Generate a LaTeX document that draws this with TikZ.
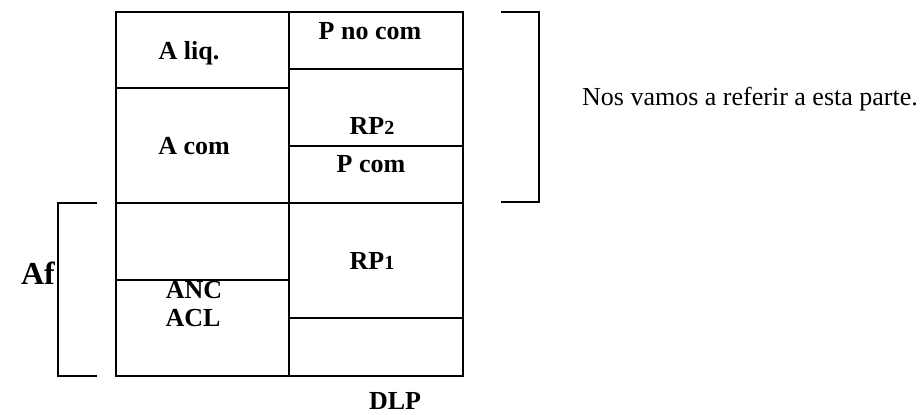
\documentclass[tikz,border=0pt]{standalone}
\usepackage{fontspec}
\setmainfont{Liberation Serif}
\usepackage{tikz}

\newcommand{\smalldig}[1]{{\fontsize{10}{12}\selectfont #1}}

\begin{document}
\begin{tikzpicture}[x=0.5pt,y=-0.5pt,line width=1pt,
  lbl/.style={font=\fontsize{13}{15}\selectfont\bfseries,inner sep=0pt,anchor=base}]
  \useasboundingbox (0,0) rectangle (924,415);
  % left column
  \draw (116,12) rectangle (289,88);
  \draw (116,88) rectangle (289,203);
  \draw (116,203) rectangle (289,280);
  \draw (116,280) rectangle (289,376);
  % right column
  \draw (289,12) rectangle (463,69);
  \draw (289,69) rectangle (463,146);
  \draw (289,146) rectangle (463,203);
  \draw (289,203) rectangle (463,318);
  \draw (289,318) rectangle (463,376);
  % labels inside
  \node[lbl] (aliq) at (189,60) {A liq.};
  \node[lbl] (acom) at (194,155) {A com};
  \node[lbl] (anc) at (194,299) {ANC};
  \node[lbl] (acl) at (193,327) {ACL};
  \node[lbl] (pnocom) at (370,40) {P no com};
  \node[lbl] (rp2) at (372,135) {RP\smalldig{2}};
  \node[lbl] (pcom) at (371,173) {P com};
  \node[lbl] (rp1) at (372,270) {RP\smalldig{1}};
  \node[lbl] (dlp) at (395,410) {DLP};
  % brackets
  \draw (97,203) -- (58,203) -- (58,376) -- (97,376);
  \node[lbl,font=\fontsize{16}{18}\selectfont\bfseries] (af) at (38,285) {Af};
  \draw (501,12) -- (539,12) -- (539,202) -- (501,202);
  \node[inner sep=0pt,anchor=base,font=\fontsize{13}{15}\selectfont] (nota) at (750,106)
    {Nos vamos a referir a esta parte.};
\end{tikzpicture}
\end{document}
